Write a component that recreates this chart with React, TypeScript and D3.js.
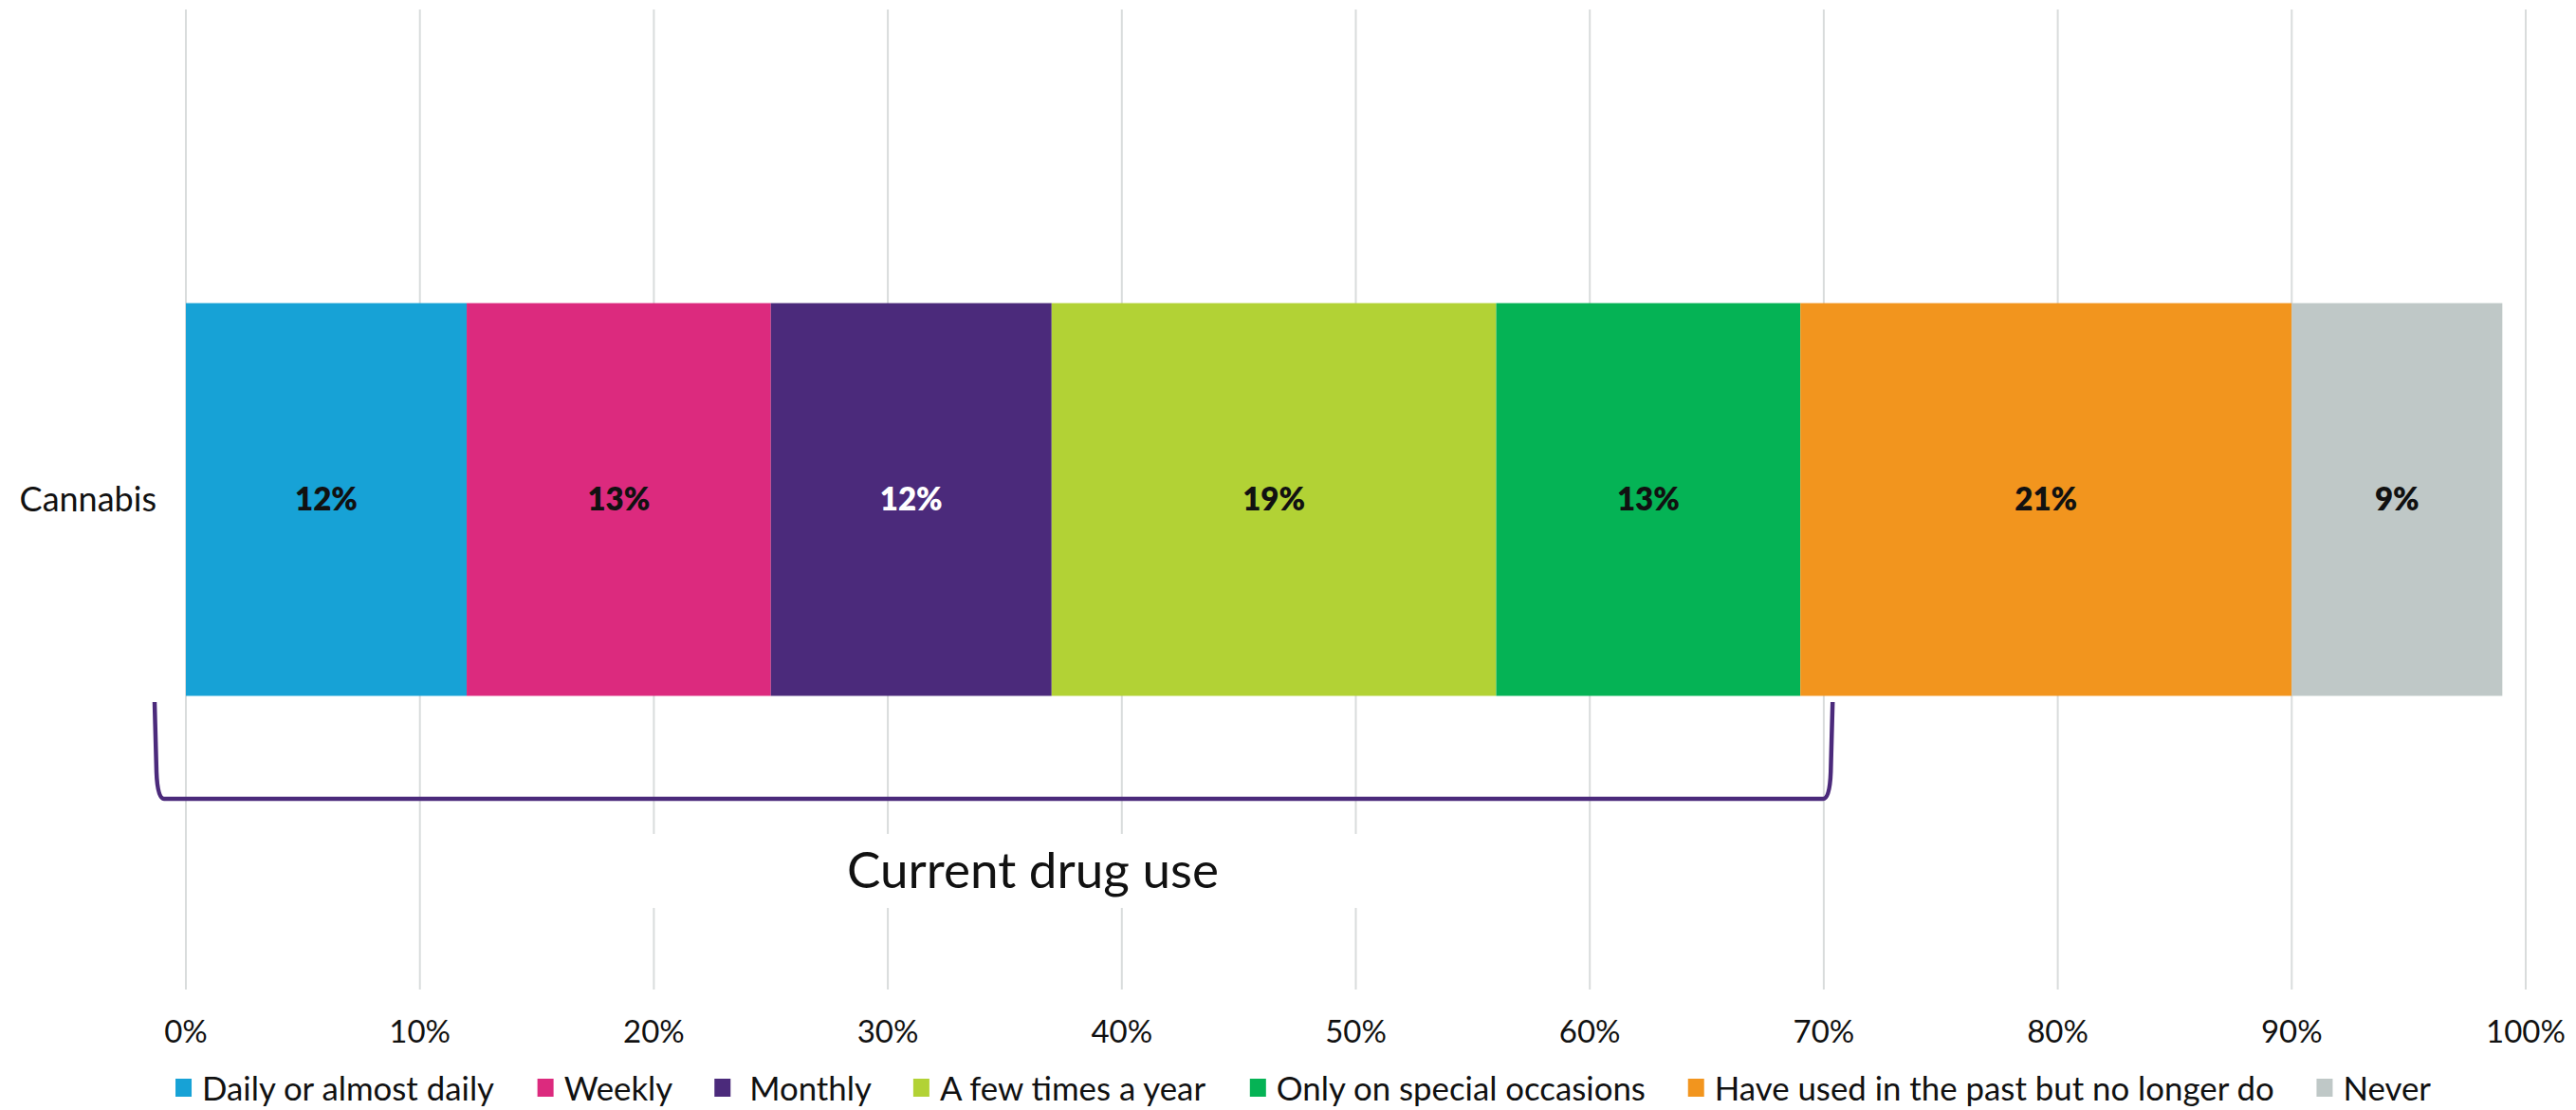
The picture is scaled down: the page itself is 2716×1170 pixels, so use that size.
import React from 'react';
import * as d3 from 'd3';

const categories = ['Cannabis'];
const seriesNames = [
  'Daily or almost daily',
  'Weekly',
  ' Monthly',
  'A few times a year',
  'Only on special occasions',
  'Have used in the past but no longer do',
  'Never',
];
const seriesValues = [12, 13, 12, 19, 13, 21, 9];
const seriesColors = ['#17A2D6', '#DC2A7E', '#4B2A7B', '#B2D235', '#05B355', '#F2951E', '#BFC8C7'];
const labelColors = ['#111111', '#111111', '#FFFFFF', '#111111', '#111111', '#111111', '#111111'];
const tickValues = [0, 10, 20, 30, 40, 50, 60, 70, 80, 90, 100];
const currentUseCount = 5;
const annotationText = 'Current drug use';

const W = 2716;
const H = 1170;
const FONT = 'Lato, "Noto Sans", sans-serif';

function measure(text: string, font: string): number {
  const c = document.createElement('canvas');
  const ctx = c.getContext('2d');
  if (!ctx) return text.length * 15;
  ctx.font = font;
  return ctx.measureText(text).width;
}

export default function App() {
  const x = d3.scaleLinear().domain([0, 100]).range([196, 2663]);
  const y = d3.scaleBand<string>().domain(categories).range([10, 1043]).paddingInner(0).paddingOuter(0.7476);

  const stack = d3.stack<any>().keys(seriesNames.map((_, i) => String(i)));
  const row: any = {};
  seriesValues.forEach((v, i) => (row[String(i)] = v));
  const stacked = stack([row]);

  const bandY = y(categories[0]) as number;
  const bw = y.bandwidth();

  // bracket
  const currentEnd = d3.sum(seriesValues.slice(0, currentUseCount));
  const bx0 = x(0) - 33;
  const bx1 = x(currentEnd) + 34;
  const bTop = 740;
  const bBot = 842;
  const bracketPath =
    `M${bx0},${bTop} L${bx0 + 2},${bBot - 28} Q${bx0 + 3},${bBot} ${bx0 + 10},${bBot} ` +
    `L${bx1 - 10},${bBot} Q${bx1 - 3},${bBot} ${bx1 - 2},${bBot - 28} L${bx1},${bTop}`;

  // legend layout
  const legendFontSize = 34.8;
  const legendFont = `${legendFontSize}px ${FONT}`;
  const sq = 18;
  const sqGap = 10;
  const itemGap = 44;
  const widths = seriesNames.map((n) => measure(n, legendFont));
  const itemWidths = widths.map((w) => sq + sqGap + w);
  const total = d3.sum(itemWidths) + itemGap * (seriesNames.length - 1);
  const legendCenter = 1374;
  let cursor = legendCenter - total / 2;
  const legendXs = itemWidths.map((w) => {
    const s = cursor;
    cursor += w + itemGap;
    return s;
  });
  const legendY = 1147;

  return (
    <svg width={W} height={H} style={{ display: 'block', position: 'absolute', left: 0, top: 0, background: '#fff' }} fontFamily={FONT}>
      <rect x={0} y={0} width={W} height={H} fill="#fff" />
      {/* gridlines */}
      {tickValues.map((t) => (
        <line key={'g' + t} x1={x(t)} x2={x(t)} y1={10} y2={1043} stroke="#D9DCDC" strokeWidth={2} />
      ))}
      {/* annotation background */}
      <rect x={600} y={879} width={980} height={78} fill="#fff" />
      {/* bars */}
      {stacked.map((s, i) => {
        const d = s[0];
        const x0 = x(d[0]);
        const x1 = x(d[1]);
        return (
          <g key={'b' + i}>
            <rect x={x0} y={bandY} width={x1 - x0} height={bw} fill={seriesColors[i]} />
            <text
              x={(x0 + x1) / 2}
              y={bandY + bw / 2}
              dy="0.36em"
              textAnchor="middle"
              fontSize={33}
              fontWeight={800}
              fill={labelColors[i]}
            >
              {`${seriesValues[i]}%`}
            </text>
          </g>
        );
      })}
      {/* category label */}
      {categories.map((c) => (
        <text key={c} x={165} y={(y(c) as number) + bw / 2} dy="0.36em" textAnchor="end" fontSize={36} fill="#111">
          {c}
        </text>
      ))}
      {/* bracket */}
      <path d={bracketPath} fill="none" stroke="#4B2A7B" strokeWidth={4.5} />
      <text x={1089} y={936} textAnchor="middle" fontSize={53} fill="#111">
        {annotationText}
      </text>
      {/* x tick labels */}
      {tickValues.map((t) => (
        <text key={'t' + t} x={x(t)} y={1099} textAnchor="middle" fontSize={33} fill="#111">
          {`${t}%`}
        </text>
      ))}
      {/* legend */}
      {seriesNames.map((n, i) => (
        <g key={'l' + i}>
          <rect x={legendXs[i]} y={legendY - sq / 2 - 1} width={sq - 1} height={sq + 1} fill={seriesColors[i]} />
          <text
            x={legendXs[i] + sq + sqGap}
            y={legendY}
            dy="0.36em"
            fontSize={legendFontSize}
            fill="#111"
            style={{ whiteSpace: 'pre' }}
          >
            {n}
          </text>
        </g>
      ))}
    </svg>
  );
}
